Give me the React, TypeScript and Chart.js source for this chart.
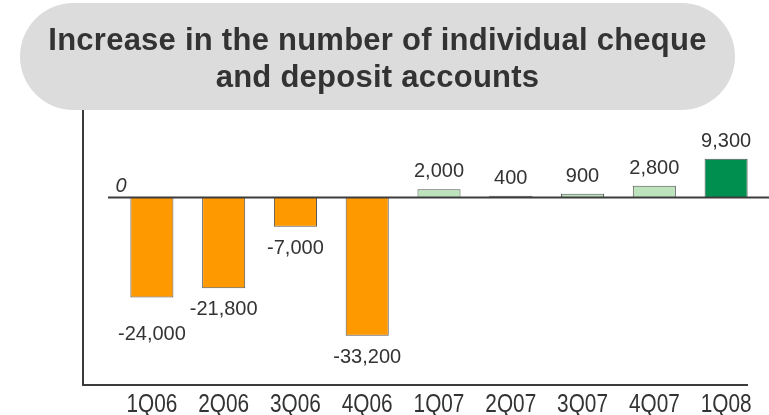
import React, { useEffect, useRef } from "react";
import { Chart, registerables } from "chart.js";

Chart.register(...registerables);

const categories = ["1Q06", "2Q06", "3Q06", "4Q06", "1Q07", "2Q07", "3Q07", "4Q07", "1Q08"];
const values = [-24000, -21800, -7000, -33200, 2000, 400, 900, 2800, 9300];
const valueLabels = ["-24,000", "-21,800", "-7,000", "-33,200", "2,000", "400", "900", "2,800", "9,300"];
const barColors = [
  "#FF9900", "#FF9900", "#FF9900", "#FF9900",
  "#BCE3BC", "#BCE3BC", "#BCE3BC", "#BCE3BC",
  "#008F4F",
];
const titleLines = ["Increase in the number of individual cheque", "and deposit accounts"];
const zeroLabel = "0";
const yMin = -45000;
const yMax = 21000;

const TEXT = "#333333";
const LINE = "#3c3c3c";
const SANS = "'Liberation Sans', Arial, Helvetica, sans-serif";

const decorPlugin = {
  id: "decor",
  afterDatasetsDraw(chart: any, _args: any, opts: any) {
    const { ctx, chartArea: a, scales } = chart;
    const y0 = scales.y.getPixelForValue(0);
    ctx.save();
    ctx.strokeStyle = LINE;
    ctx.lineWidth = 2;
    // L-shaped frame
    const fx = a.left - 33;
    ctx.beginPath();
    ctx.moveTo(fx, a.top);
    ctx.lineTo(fx, a.bottom);
    ctx.lineTo(a.right - 14, a.bottom);
    ctx.stroke();
    // zero line
    ctx.beginPath();
    ctx.moveTo(a.left - 8, y0);
    ctx.lineTo(chart.width, y0);
    ctx.stroke();
    // zero label
    ctx.fillStyle = TEXT;
    ctx.font = `italic 20px ${SANS}`;
    ctx.textAlign = "center";
    ctx.textBaseline = "alphabetic";
    ctx.fillText(zeroLabel, a.left + 5, y0 - 6);
    // value labels
    ctx.font = `20px ${SANS}`;
    const meta = chart.getDatasetMeta(0);
    const nudges: number[] = opts.nudges || [];
    meta.data.forEach((bar: any, i: number) => {
      const v = values[i];
      const extra = nudges[i] || 0;
      if (v >= 0) {
        ctx.fillText(valueLabels[i], bar.x, bar.y - 12 - extra);
      } else {
        ctx.fillText(valueLabels[i], bar.x, bar.y + 27 + extra);
      }
    });
    // category labels (narrow)
    ctx.font = `26px ${SANS}`;
    ctx.fillStyle = TEXT;
    const xs = scales.x;
    categories.forEach((c, i) => {
      const x = xs.getPixelForTick(i);
      ctx.save();
      ctx.translate(x, a.bottom + 27);
      ctx.scale(0.8, 1);
      ctx.fillText(c, 0, 0);
      ctx.restore();
    });
    ctx.restore();
  },
};

export default function App() {
  const canvasRef = useRef<HTMLCanvasElement | null>(null);

  useEffect(() => {
    if (!canvasRef.current) return;
    const chart = new Chart(canvasRef.current, {
      type: "bar",
      data: {
        labels: categories,
        datasets: [
          {
            data: values,
            backgroundColor: barColors,
            borderColor: "#555555",
            borderWidth: 1,
            categoryPercentage: 1,
            barPercentage: 0.6,
          },
        ],
      },
      options: {
        responsive: false,
        animation: false,
        layout: { padding: { left: 116, right: 7, top: 110, bottom: 0 } },
        plugins: {
          legend: { display: false },
          tooltip: { enabled: false },
          title: { display: false },
          decor: { nudges: [15, 0, 0, 0, 0, 0, 0, 0, 0] },
        } as any,
        scales: {
          x: {
            grid: { display: false, drawTicks: false },
            border: { display: false },
            ticks: { display: false },
            afterFit: (scale: any) => {
              scale.height = 30;
            },
          },
          y: {
            display: false,
            min: yMin,
            max: yMax,
          },
        },
      },
      plugins: [decorPlugin],
    });
    return () => chart.destroy();
  }, []);

  return (
    <div style={{ position: "fixed", left: 0, top: 0, width: 769, height: 415, background: "#ffffff" }}>
      <canvas ref={canvasRef} width={769} height={415} style={{ position: "absolute", left: 0, top: 0 }} />
      <div
        style={{
          position: "absolute",
          left: 20,
          top: 3,
          width: 715,
          height: 107,
          borderRadius: 54,
          background: "#DCDCDC",
        }}
      />
      <div
        style={{
          position: "absolute",
          left: 20,
          top: 21,
          width: 715,
          textAlign: "center",
          fontFamily: SANS,
          fontWeight: "bold",
          fontSize: 31,
          letterSpacing: "0.25px",
          lineHeight: "37px",
          color: TEXT,
          whiteSpace: "nowrap",
        }}
      >
        {titleLines.map((t, i) => (
          <div key={i}>{t}</div>
        ))}
      </div>
    </div>
  );
}
